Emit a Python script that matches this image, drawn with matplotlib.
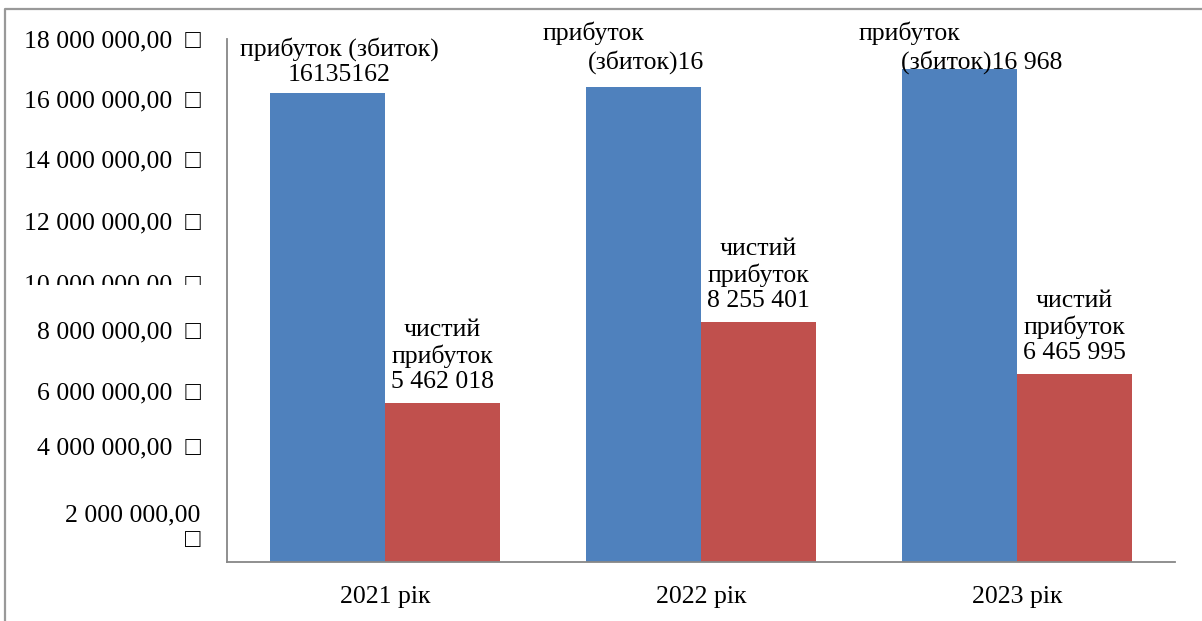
import matplotlib
matplotlib.use("Agg")
from matplotlib import pyplot as plt
from matplotlib.lines import Line2D
from matplotlib.transforms import ScaledTranslation, Bbox, TransformedBbox, IdentityTransform, blended_transform_factory
import numpy as np

years = ["2021 рік", "2022 рік", "2023 рік"]
gross_profit = [16135162, 16350000, 16968000]
net_profit = [5462018, 8255401, 6465995]

y_ticks = [2e6, 4e6, 6e6, 8e6, 10e6, 12e6, 14e6, 16e6, 18e6]
y_tick_labels = [
    "2 000 000,00\n□",
    "4 000 000,00  □",
    "6 000 000,00  □",
    "8 000 000,00  □",
    "10 000 000,00  □",
    "12 000 000,00  □",
    "14 000 000,00  □",
    "16 000 000,00  □",
    "18 000 000,00  □",
]

BLUE = "#4F81BD"
RED = "#C0504D"
GRAY = "#878787"
FONT = ["Liberation Serif", "DejaVu Sans"]
FS = 18.5

plt.rcParams["font.family"] = FONT
plt.rcParams["font.size"] = FS

fig = plt.figure(figsize=(12.02, 6.21), dpi=100)
ax = fig.add_axes([227 / 1202, 59 / 621, 948 / 1202, 523 / 621])

x = np.arange(len(years))
w = 0.364
blue_bars = ax.bar(x - w / 2, gross_profit, w, color=BLUE)
red_bars = ax.bar(x + w / 2, net_profit, w, color=RED)

ax.set_xlim(-0.5, 2.5)
ax.set_ylim(0, 18e6)
ax.set_xticks(x, years)
ax.set_yticks(y_ticks, y_tick_labels)
ax.tick_params(axis="x", length=0, pad=17)
ax.tick_params(axis="y", length=0, pad=19)

for side in ["top", "right"]:
    ax.spines[side].set_visible(False)
for side in ["left", "bottom"]:
    ax.spines[side].set_color(GRAY)
    ax.spines[side].set_linewidth(1.3)

# nudge some of the y labels the way the source document lays them out
label_shift_px = {2e6: -20, 6e6: -3, 10e6: -12, 12e6: -8, 14e6: -4, 16e6: -2}
for tick_value, lab in zip(y_ticks, ax.get_yticklabels()):
    lab.set_multialignment("right")
    dy = label_shift_px.get(tick_value, 0)
    if dy:
        lab.set_transform(lab.get_transform() + ScaledTranslation(0, dy / 100, fig.dpi_scale_trans))
    if tick_value == 10e6:
        # this label is cut off at the bottom
        lab.set_clip_box(TransformedBbox(Bbox([[0, 336], [1202, 621]]), IdentityTransform()))
        lab.set_clip_on(True)

# value labels
ax.annotate(f"прибуток (збиток)\n{gross_profit[0]}", xy=(x[0] - w / 2, gross_profit[0]),
            xytext=(12, 12), textcoords="offset pixels", ha="center", va="baseline",
            multialignment="center", linespacing=1.2)

for i, v in enumerate(net_profit):
    txt = f"{v:,}".replace(",", " ")
    ax.annotate(f"чистий\nприбуток\n{txt}", xy=(x[i] + w / 2, v),
                xytext=(0, 15), textcoords="offset pixels", ha="center", va="baseline",
                multialignment="center")

top = blended_transform_factory(ax.transData, ax.transAxes)
px = 1 / 1202 * 3 / (948 / 1202)  # one pixel in x data units
ax.text(x[1] - w / 2 - 50 * px, (562 - 33) / 523, "прибуток", transform=top, ha="center", va="center")
ax.text(x[1] - w / 2 + 3 * px, (562 - 62) / 523, "(збиток)16", transform=top, ha="center", va="center")
ax.text(x[2] - w / 2 - 50 * px, (562 - 33) / 523, "прибуток", transform=top, ha="center", va="center")
ax.text(x[2] - w / 2 + 22 * px, (562 - 62) / 523, "(збиток)16 968", transform=top, ha="center", va="center")

# frame lines on the left and top edge
fig.add_artist(Line2D([5 / 1202, 5 / 1202, 1], [0, 1 - 9 / 621, 1 - 9 / 621],
                      transform=fig.transFigure, color="#999999", lw=1.6))

fig.savefig("out.png", dpi=100)
